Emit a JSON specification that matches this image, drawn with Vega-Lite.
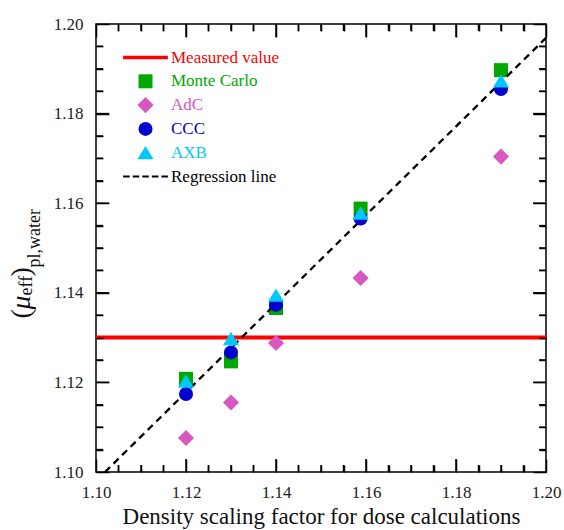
{
  "$schema": "https://vega.github.io/schema/vega-lite/v6.json",
  "width": 450,
  "height": 448,
  "autosize": {"type": "none"},
  "padding": {"left": 96, "top": 24, "right": 18, "bottom": 58},
  "background": "white",
  "datasets": {
    "majorTicks": [
      {"v": 1.12, "edge": 1.10}, {"v": 1.14, "edge": 1.10}, {"v": 1.16, "edge": 1.10}, {"v": 1.18, "edge": 1.10},
      {"v": 1.12, "edge": 1.20}, {"v": 1.14, "edge": 1.20}, {"v": 1.16, "edge": 1.20}, {"v": 1.18, "edge": 1.20}
    ],
    "minorTicks": [
      {"v": 1.105, "edge": 1.10}, {"v": 1.11, "edge": 1.10}, {"v": 1.115, "edge": 1.10},
      {"v": 1.125, "edge": 1.10}, {"v": 1.13, "edge": 1.10}, {"v": 1.135, "edge": 1.10},
      {"v": 1.145, "edge": 1.10}, {"v": 1.15, "edge": 1.10}, {"v": 1.155, "edge": 1.10},
      {"v": 1.165, "edge": 1.10}, {"v": 1.17, "edge": 1.10}, {"v": 1.175, "edge": 1.10},
      {"v": 1.185, "edge": 1.10}, {"v": 1.19, "edge": 1.10}, {"v": 1.195, "edge": 1.10},
      {"v": 1.105, "edge": 1.20}, {"v": 1.11, "edge": 1.20}, {"v": 1.115, "edge": 1.20},
      {"v": 1.125, "edge": 1.20}, {"v": 1.13, "edge": 1.20}, {"v": 1.135, "edge": 1.20},
      {"v": 1.145, "edge": 1.20}, {"v": 1.15, "edge": 1.20}, {"v": 1.155, "edge": 1.20},
      {"v": 1.165, "edge": 1.20}, {"v": 1.17, "edge": 1.20}, {"v": 1.175, "edge": 1.20},
      {"v": 1.185, "edge": 1.20}, {"v": 1.19, "edge": 1.20}, {"v": 1.195, "edge": 1.20}
    ],
    "measured": [
      {"x": 1.10, "y": 1.13, "series": "Measured value"},
      {"x": 1.20, "y": 1.13, "series": "Measured value"}
    ],
    "regression": [
      {"x": 1.102, "y": 1.10, "series": "Regression line"},
      {"x": 1.20, "y": 1.1969, "series": "Regression line"}
    ],
    "points": [
      {"x": 1.12, "y": 1.1208, "series": "Monte Carlo"},
      {"x": 1.13, "y": 1.1247, "series": "Monte Carlo"},
      {"x": 1.14, "y": 1.1366, "series": "Monte Carlo"},
      {"x": 1.1588, "y": 1.1588, "series": "Monte Carlo"},
      {"x": 1.19, "y": 1.1897, "series": "Monte Carlo"},
      {"x": 1.12, "y": 1.1076, "series": "AdC"},
      {"x": 1.13, "y": 1.1155, "series": "AdC"},
      {"x": 1.14, "y": 1.1288, "series": "AdC"},
      {"x": 1.1588, "y": 1.1433, "series": "AdC"},
      {"x": 1.19, "y": 1.1704, "series": "AdC"},
      {"x": 1.12, "y": 1.1174, "series": "CCC"},
      {"x": 1.13, "y": 1.1267, "series": "CCC"},
      {"x": 1.14, "y": 1.1373, "series": "CCC"},
      {"x": 1.1588, "y": 1.1566, "series": "CCC"},
      {"x": 1.19, "y": 1.1855, "series": "CCC"},
      {"x": 1.12, "y": 1.1203, "series": "AXB"},
      {"x": 1.13, "y": 1.1298, "series": "AXB"},
      {"x": 1.14, "y": 1.1395, "series": "AXB"},
      {"x": 1.1588, "y": 1.1578, "series": "AXB"},
      {"x": 1.19, "y": 1.1873, "series": "AXB"}
    ]
  },
  "layer": [
    {
      "data": {"name": "majorTicks"},
      "mark": {"type": "tick", "orient": "vertical", "size": 26, "thickness": 1.5, "color": "#000000", "opacity": 1, "clip": true},
      "encoding": {
        "x": {"field": "v", "type": "quantitative", "axis": null},
        "y": {"field": "edge", "type": "quantitative", "axis": null}
      }
    },
    {
      "data": {"name": "minorTicks"},
      "mark": {"type": "tick", "orient": "vertical", "size": 14, "thickness": 1.5, "color": "#000000", "opacity": 1, "clip": true},
      "encoding": {
        "x": {"field": "v", "type": "quantitative", "axis": null},
        "y": {"field": "edge", "type": "quantitative", "axis": null}
      }
    },
    {
      "data": {"name": "majorTicks"},
      "mark": {"type": "tick", "orient": "horizontal", "size": 26, "thickness": 1.5, "color": "#000000", "opacity": 1, "clip": true},
      "encoding": {
        "y": {"field": "v", "type": "quantitative", "axis": null},
        "x": {"field": "edge", "type": "quantitative", "axis": null}
      }
    },
    {
      "data": {"name": "minorTicks"},
      "mark": {"type": "tick", "orient": "horizontal", "size": 14, "thickness": 1.5, "color": "#000000", "opacity": 1, "clip": true},
      "encoding": {
        "y": {"field": "v", "type": "quantitative", "axis": null},
        "x": {"field": "edge", "type": "quantitative", "axis": null}
      }
    },
    {
      "data": {"name": "measured"},
      "mark": {"type": "line", "strokeWidth": 4},
      "encoding": {
        "x": {
          "field": "x", "type": "quantitative",
          "scale": {"domain": [1.1, 1.2], "nice": false, "zero": false},
          "axis": {
            "orient": "bottom", "offset": -13, "zindex": 1,
            "values": [1.1, 1.12, 1.14, 1.16, 1.18, 1.2],
            "ticks": true, "tickColor": "#000000", "tickWidth": 1.5, "tickOpacity": 1,
            "format": ".2f", "tickSize": 13, "labelPadding": 12,
            "title": "Density scaling factor for dose calculations",
            "titleFontSize": 23, "titleY": 64, "titleBaseline": "alphabetic"
          }
        },
        "y": {
          "field": "y", "type": "quantitative",
          "scale": {"domain": [1.1, 1.2], "nice": false, "zero": false},
          "axis": {
            "orient": "left", "offset": -13, "zindex": 1,
            "values": [1.1, 1.12, 1.14, 1.16, 1.18, 1.2],
            "ticks": true, "tickColor": "#000000", "tickWidth": 1.5, "tickOpacity": 1,
            "format": ".2f", "tickSize": 13, "labelPadding": 13,
            "title": "(", "titleFontSize": 28, "titleAngle": 270,
            "titleX": -80, "titleY": 294, "titleAlign": "left", "titleBaseline": "alphabetic"
          }
        },
        "color": {
          "field": "series", "type": "nominal",
          "scale": {
            "domain": ["Measured value", "Monte Carlo", "AdC", "CCC", "AXB", "Regression line"],
            "range": ["#ff0000", "#00a800", "#d957c0", "#0000d0", "#00c8ff", "#000000"]
          },
          "legend": {
            "title": null,
            "orient": "none",
            "legendX": 41,
            "legendY": 25,
            "padding": 0,
            "rowPadding": 5.8,
            "symbolSize": 196,
            "labelOffset": 17,
            "labelFontSize": 17,
            "labelFont": "Liberation Serif",
            "labelLimit": 300,
            "encode": {
              "symbols": {
                "update": {
                  "shape": {"scale": "shape", "field": "value"},
                  "fill": {"scale": "color", "field": "value"},
                  "stroke": {"scale": "color", "field": "value"},
                  "strokeWidth": {"signal": "datum.value === 'Measured value' ? 3.5 : (datum.value === 'Regression line' ? 2 : 0)"},
                  "opacity": {"value": 1}
                }
              },
              "labels": {
                "update": {
                  "fill": {"scale": "color", "field": "value"}
                }
              }
            }
          }
        }
      }
    },
    {
      "data": {"name": "points"},
      "transform": [{"filter": {"field": "series", "oneOf": ["Monte Carlo", "AdC"]}}],
      "mark": {"type": "point", "filled": true, "size": 196, "opacity": 1, "strokeWidth": 0},
      "encoding": {
        "x": {
          "field": "x", "type": "quantitative",
          "axis": {
            "orient": "top", "offset": -13, "zindex": 1,
            "values": [1.1, 1.12, 1.14, 1.16, 1.18, 1.2],
            "ticks": true, "tickColor": "#000000", "tickWidth": 1.5, "tickOpacity": 1,
            "tickSize": 13, "labels": false,
            "title": "pl,water", "titleFontSize": 18, "titleAngle": 270,
            "titleX": -57, "titleY": 230, "titleAlign": "left", "titleBaseline": "alphabetic"
          }
        },
        "y": {
          "field": "y", "type": "quantitative",
          "axis": {
            "orient": "right", "offset": -13, "zindex": 1,
            "values": [1.1, 1.12, 1.14, 1.16, 1.18, 1.2],
            "ticks": true, "tickColor": "#000000", "tickWidth": 1.5, "tickOpacity": 1,
            "tickSize": 13, "labels": false,
            "title": "eff", "titleFontSize": 18, "titleAngle": 270,
            "titleX": -502, "titleY": 271, "titleAlign": "left", "titleBaseline": "alphabetic"
          }
        },
        "color": {"field": "series", "type": "nominal"},
        "shape": {
          "field": "series", "type": "nominal",
          "scale": {
            "domain": ["Measured value", "Monte Carlo", "AdC", "CCC", "AXB", "Regression line"],
            "range": [
              "M-3.2,0H3.2",
              "square",
              "M0,-1.15L1.15,0L0,1.15L-1.15,0Z",
              "circle",
              "M0,-0.95L1.15,0.95L-1.15,0.95Z",
              "M-3.2,0H-2.26M-1.83,0H-0.89M-0.46,0H0.48M0.91,0H1.85M2.28,0H3.2"
            ]
          }
        }
      }
    },
    {
      "data": {"name": "regression"},
      "mark": {"type": "line", "strokeWidth": 2.3, "strokeDash": [7, 5]},
      "encoding": {
        "x": {
          "field": "x", "type": "quantitative",
          "axis": {
            "orient": "bottom", "offset": -7, "zindex": 1,
            "values": [1.105, 1.11, 1.115, 1.125, 1.13, 1.135, 1.145, 1.15, 1.155, 1.165, 1.17, 1.175, 1.185, 1.19, 1.195],
            "ticks": true, "tickColor": "#000000", "tickWidth": 1.5, "tickOpacity": 1,
            "tickSize": 7, "labels": false, "title": null
          }
        },
        "y": {
          "field": "y", "type": "quantitative",
          "axis": {
            "orient": "left", "offset": -7, "zindex": 1,
            "values": [1.105, 1.11, 1.115, 1.125, 1.13, 1.135, 1.145, 1.15, 1.155, 1.165, 1.17, 1.175, 1.185, 1.19, 1.195],
            "ticks": true, "tickColor": "#000000", "tickWidth": 1.5, "tickOpacity": 1,
            "tickSize": 7, "labels": false,
            "title": "μ", "titleFontSize": 28, "titleFontStyle": "italic", "titleAngle": 270,
            "titleX": -74, "titleY": 285, "titleAlign": "left", "titleBaseline": "alphabetic"
          }
        },
        "color": {"field": "series", "type": "nominal"}
      }
    },
    {
      "data": {"name": "points"},
      "transform": [{"filter": {"field": "series", "oneOf": ["CCC", "AXB"]}}],
      "mark": {"type": "point", "filled": true, "size": 196, "opacity": 1, "strokeWidth": 0},
      "encoding": {
        "x": {
          "field": "x", "type": "quantitative",
          "axis": {
            "orient": "top", "offset": -7, "zindex": 1,
            "values": [1.105, 1.11, 1.115, 1.125, 1.13, 1.135, 1.145, 1.15, 1.155, 1.165, 1.17, 1.175, 1.185, 1.19, 1.195],
            "ticks": true, "tickColor": "#000000", "tickWidth": 1.5, "tickOpacity": 1,
            "tickSize": 7, "labels": false, "title": null
          }
        },
        "y": {
          "field": "y", "type": "quantitative",
          "axis": {
            "orient": "right", "offset": -7, "zindex": 1,
            "values": [1.105, 1.11, 1.115, 1.125, 1.13, 1.135, 1.145, 1.15, 1.155, 1.165, 1.17, 1.175, 1.185, 1.19, 1.195],
            "ticks": true, "tickColor": "#000000", "tickWidth": 1.5, "tickOpacity": 1,
            "tickSize": 7, "labels": false,
            "title": ")", "titleFontSize": 28, "titleAngle": 270,
            "titleX": -510, "titleY": 252, "titleAlign": "left", "titleBaseline": "alphabetic"
          }
        },
        "color": {"field": "series", "type": "nominal"},
        "shape": {"field": "series", "type": "nominal"}
      }
    }
  ],
  "resolve": {"axis": {"x": "independent", "y": "independent"}},
  "config": {
    "font": "Liberation Serif",
    "view": {"stroke": "#000000", "strokeWidth": 1.5},
    "axis": {
      "grid": false,
      "domain": false,
      "labelFont": "Liberation Serif",
      "labelFontSize": 17,
      "labelColor": "#222222",
      "labelFlush": false,
      "labelOverlap": false,
      "titleFont": "Liberation Serif",
      "titleFontWeight": "normal",
      "titleColor": "#111111",
      "titlePadding": 0
    }
  }
}
